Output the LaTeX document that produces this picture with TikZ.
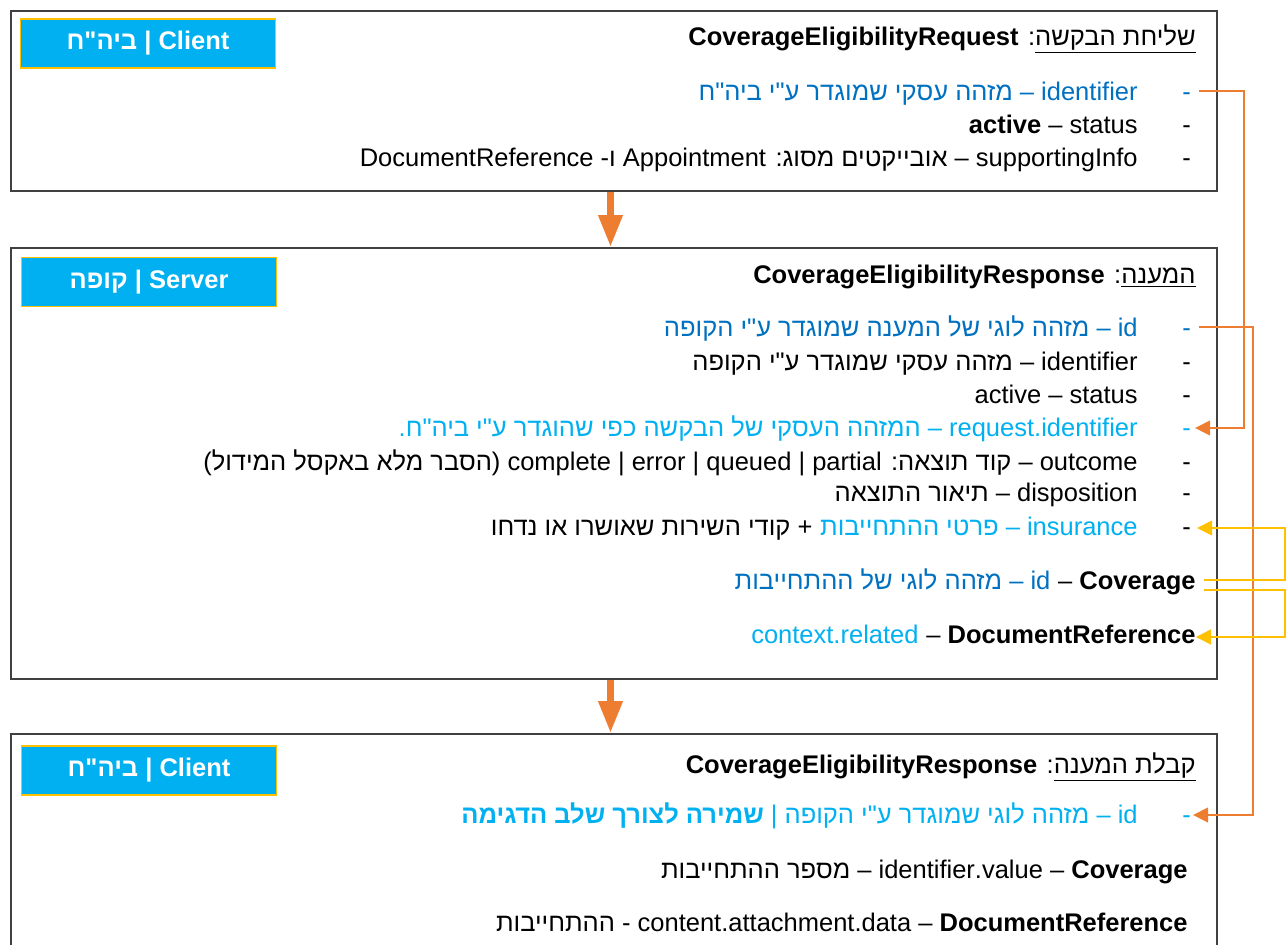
\documentclass[tikz,border=0pt]{standalone}
\usepackage{fontspec}
\setmainfont{Liberation Sans}[Script=Hebrew, Ligatures=TeXOff]
\TeXXeTstate=1
\usetikzlibrary{arrows.meta}
\definecolor{idblue}{HTML}{0070C0}
\definecolor{skyblue}{HTML}{00B0F0}
\definecolor{floworange}{HTML}{ED7D31}
\definecolor{linkgold}{HTML}{FFC000}
\definecolor{framegray}{HTML}{404040}
\tikzset{
  panel/.style={draw=framegray, line width=1pt, anchor=north west, inner sep=0pt, minimum width=603pt},
  role/.style={fill=skyblue, draw=linkgold, line width=0.6pt, text=white, font=\fontsize{12.75}{15}\selectfont\bfseries,
    minimum width=127.5pt, minimum height=24.5pt, inner sep=0pt},
  txt/.style={anchor=base east, inner sep=0pt},
  bul/.style={anchor=base, inner sep=0pt},
  flow/.style={draw=floworange, line width=3.5pt, -{Triangle[length=16pt,width=11.5pt]}},
  link/.style={draw=floworange, line width=0.75pt, -{Triangle[length=7.5pt,width=7.5pt]}},
  goldlink/.style={draw=linkgold, line width=0.75pt, -{Triangle[length=7.5pt,width=7.5pt]}}
}

\begin{document}
\begin{tikzpicture}[x=0.5pt, y=-0.5pt, font=\fontsize{12.75}{15}\selectfont]
	\path[use as bounding box, clip] (0,0) rectangle (1286,944);
	\coordinate (axis) at (610.5,0);
	\coordinate (laneA) at (1244,0);
	\coordinate (laneB) at (1253,0);
	\coordinate (laneC) at (1285,0);

	% request
	\node[panel, minimum height=90pt] (req) at (10,10) {};
	\node[role] (role1) at (148,43.5) {\beginR Client | ביה"ח\endR};
	\node[txt] (title1) at (1196,45) {\beginR\underline{\beginR שליחת הבקשה\endR}: \textbf{CoverageEligibilityRequest}\endR};
	\node[bul, text=idblue] (b11) at (1186.5,100) {-};
	\node[bul] (b12) at (1186.5,133) {-};
	\node[bul] (b13) at (1186.5,166) {-};
	\node[txt, text=idblue] (l11) at (1138,100) {\beginR identifier – מזהה עסקי שמוגדר ע"י ביה"ח\endR};
	\node[txt] (l12) at (1138,133) {\beginR status – \textbf{active}\endR};
	\node[txt] (l13) at (1138,166) {\beginR supportingInfo – אובייקטים מסוג\kern0pt: Appointment ו\kern0pt- DocumentReference\endR};

	% response
	\node[panel, minimum height=215.5pt] (resp) at (10,247) {};
	\node[role] (role2) at (149,282) {\beginR Server | קופה\endR};
	\node[txt] (title2) at (1196,283) {\beginR\underline{המענה}: \textbf{CoverageEligibilityResponse}\endR};
	\node[bul, text=idblue] (b21) at (1186.5,336) {-};
	\node[bul] (b22) at (1186.5,370) {-};
	\node[bul] (b23) at (1186.5,403) {-};
	\node[bul, text=skyblue] (b24) at (1186.5,436) {-};
	\node[bul] (b25) at (1186.5,470) {-};
	\node[bul] (b26) at (1186.5,501) {-};
	\node[bul] (b27) at (1186.5,535) {-};
	\node[txt, text=idblue] (l21) at (1138,336) {\beginR id – מזהה לוגי של המענה שמוגדר ע"י הקופה\endR};
	\node[txt] (l22) at (1138,370) {\beginR identifier – מזהה עסקי שמוגדר ע"י הקופה\endR};
	\node[txt] (l23) at (1138,403) {\beginR status – active\endR};
	\node[txt, text=skyblue] (l24) at (1138,436) {\beginR request.identifier – המזהה העסקי של הבקשה כפי שהוגדר ע"י ביה"ח\kern0pt.\endR};
	\node[txt] (l25) at (1138,470) {\beginR outcome – קוד תוצאה\kern0pt: \beginL complete | error | queued | partial\endL\ (\kern0pt הסבר מלא באקסל המידול\kern0pt)\endR};
	\node[txt] (l26) at (1138,501) {\beginR disposition – תיאור התוצאה\endR};
	\node[txt, text=skyblue] (l27a) at (1138,535) {\beginR insurance – פרטי ההתחייבות\endR};
	\node[txt] (l27b) at ([xshift=-3.5pt]l27a.base west) {\beginR + קודי השירות שאושרו או נדחו\endR};
	\node[txt] (l28a) at (1196,589) {\beginR\textbf{Coverage} –\endR};
	\node[txt, text=idblue] (l28b) at ([xshift=-3.5pt]l28a.base west) {\beginR id – מזהה לוגי של ההתחייבות\endR};
	\node[txt] (l29a) at (1196,643) {\beginR\textbf{DocumentReference} –\endR};
	\node[txt, text=skyblue] (l29b) at ([xshift=-3.5pt]l29a.base west) {context.related};

	% receive
	\node[panel, minimum height=125pt] (recv) at (10,733) {};
	\node[role] (role3) at (149,770.5) {\beginR Client | ביה"ח\endR};
	\node[txt] (title3) at (1196,773) {\beginR\underline{\beginR קבלת המענה\endR}: \textbf{CoverageEligibilityResponse}\endR};
	\node[bul, text=skyblue] (b31) at (1186.5,823) {-};
	\node[txt, text=skyblue] (l31) at (1138,823) {\beginR id – מזהה לוגי שמוגדר ע"י הקופה | \textbf{שמירה לצורך שלב הדגימה}\endR};
	\node[txt] (l32) at (1188,878) {\beginR\textbf{Coverage} – identifier.value – מספר ההתחייבות\endR};
	\node[txt] (l33) at (1188,931) {\beginR\textbf{DocumentReference} – content.attachment.data - ההתחייבות\endR};

	\draw[flow] (req.south -| axis) -- (resp.north -| axis);
	\draw[flow] (resp.south -| axis) -- (recv.north -| axis);

	\draw[link] ([xshift=4pt,yshift=4.5pt]b11.base east) coordinate (s1) -- (s1 -| laneA) |- ([xshift=2pt,yshift=4pt]b24.base east);
	\draw[link] ([xshift=4pt,yshift=4.5pt]b21.base east) coordinate (s2) -- (s2 -| laneB) |- ([xshift=1pt,yshift=4pt]b31.base east);
	\draw[goldlink] ([xshift=4pt,yshift=4.5pt]l28a.base east) coordinate (s3) -- (s3 -| laneC) |- ([xshift=3pt,yshift=3.5pt]b27.base east);
	\draw[goldlink] ([xshift=4pt,yshift=-0.5pt]l28a.base east) coordinate (s4) -- (s4 -| laneC) |- ([yshift=3pt]l29a.base east);
\end{tikzpicture}
\end{document}
